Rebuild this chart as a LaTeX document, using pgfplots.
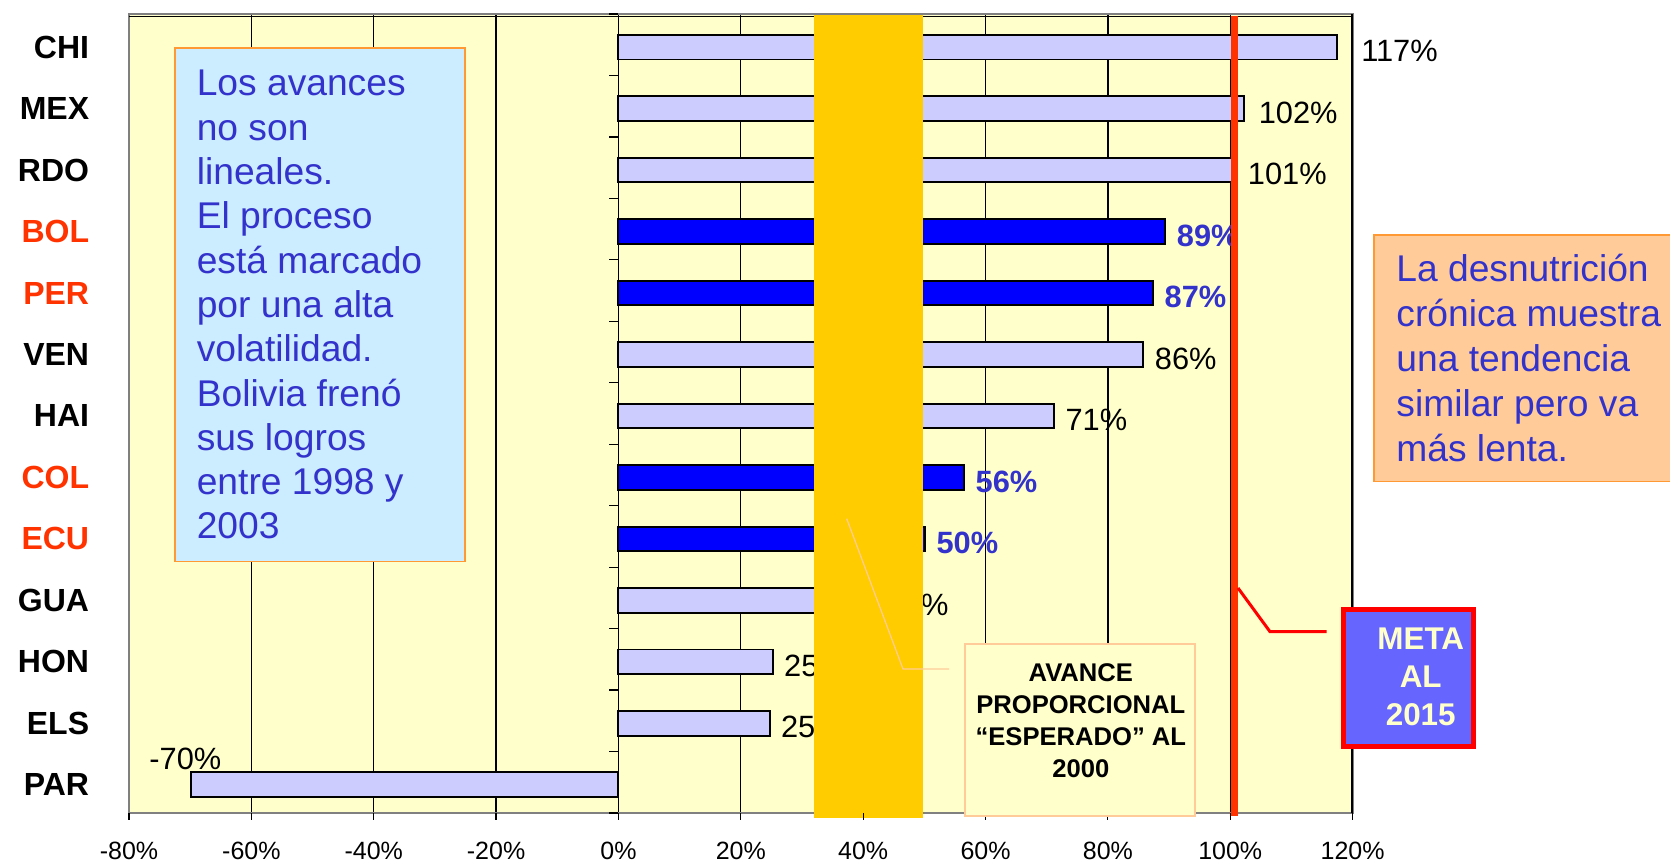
\documentclass[border=0pt]{standalone}
\usepackage{fontspec}
\setmainfont{Liberation Sans}
\usepackage{pgfplots}
\pgfplotsset{compat=1.18}
\definecolor{bgyellow}{HTML}{FFFFCC}
\definecolor{lightbar}{HTML}{CCCCFF}
\definecolor{darkbar}{HTML}{0000FF}
\definecolor{band}{HTML}{FFCC00}
\definecolor{metaline}{HTML}{FF3300}
\definecolor{catred}{HTML}{FF3300}
\definecolor{lblblue}{HTML}{3333CC}
\definecolor{boxblue}{HTML}{CCECFF}
\definecolor{boxorange}{HTML}{FF9933}
\definecolor{boxpeach}{HTML}{FFCC99}
\definecolor{metafill}{HTML}{6666FF}
\definecolor{metared}{HTML}{FF0000}
\begin{document}
\begin{tikzpicture}
\path[use as bounding box] (0,0) rectangle (835pt,431.5pt);
\begin{axis}[
  at={(64.5pt,424.5pt)}, anchor=north west,
  scale only axis, width=611.8pt, height=399.5pt,
  xmin=-80, xmax=120, ymin=-0.54, ymax=12.46, y dir=reverse,
  axis background/.style={fill=bgyellow},
  axis line style={draw=gray, line width=0.9pt},
  xtick={-80,-60,...,120},
  xticklabels={-80\%,-60\%,-40\%,-20\%,0\%,20\%,40\%,60\%,80\%,100\%,120\%},
  xticklabel style={font=\fontsize{12.5}{12.5}\selectfont, anchor=base, yshift=-23.25pt, inner sep=0pt},
  ytick={0,...,12},
  yticklabels={CHI,MEX,RDO,\textcolor{catred}{BOL},\textcolor{catred}{PER},VEN,HAI,\textcolor{catred}{COL},\textcolor{catred}{ECU},GUA,HON,ELS,PAR},
  yticklabel style={font=\bfseries\fontsize{16}{16}\selectfont, anchor=east, inner sep=0pt, xshift=-19.75pt},
  major tick length=0pt,
  xmajorgrids, grid style={black, line width=0.65pt},
  xbar, bar width=12.3pt, bar shift=0pt,
  clip=false,
  point meta=explicit symbolic,
  nodes near coords,
]
\addplot[xbar, bar shift=0pt, fill=lightbar, draw=black, line width=0.95pt,
  every node near coord/.append style={anchor=west, inner sep=0pt, xshift=5.3pt, yshift=-2pt, font=\fontsize{15.4}{15.4}\selectfont, text=black}]
  coordinates {
 (117.4,0) [\hspace{6.5pt}117\%]
 (102.3,1) [\hspace{1.5pt}102\%]
 (101,2) [101\%]
 (85.8,5) [86\%]
 (71.2,6) [71\%]
 (42,9) [42\%]
 (25.2,10) [25\%]
 (24.7,11) [25\%]
};
\addplot[xbar, bar shift=0pt, fill=lightbar, draw=black, line width=0.95pt,
  every node near coord/.append style={anchor=base, inner sep=0pt, xshift=-3pt, yshift=7.4pt, font=\fontsize{15.4}{15.4}\selectfont, text=black}]
  coordinates {(-69.8,12) [-70\%]};
\addplot[xbar, bar shift=0pt, fill=darkbar, draw=black, line width=0.95pt,
  every node near coord/.append style={anchor=west, inner sep=0pt, xshift=5.3pt, yshift=-2pt, font=\bfseries\fontsize{15.4}{15.4}\selectfont, text=lblblue}]
  coordinates {
 (89.4,3) [89\%]
 (87.4,4) [87\%]
 (56.5,7) [56\%]
 (50.1,8) [50\%]
};
\draw[black, line width=0.9pt] (rel axis cs:0,0.997) -- (rel axis cs:1,0.997);
\draw[black, line width=0.7pt] (rel axis cs:0.9995,0) -- (rel axis cs:0.9995,1);
\end{axis}
\begin{scope}[x=0.5pt, y=-0.5pt, shift={(0pt,431.5pt)}]
 % expected-progress band and 2015 goal line (drawn over bars and labels)
 \fill[band] (813.8,15) rectangle (923.3,818);
 \draw[metaline, line width=3.7pt] (1234.5,16) -- (1234.5,815.7);
 \foreach \k in {0,...,13} \draw[black, line width=0.6pt] (618,{14+61.46*\k}) -- ++(-9,0);
 \foreach \k in {0,...,10} \draw[black, line width=0.6pt] ({129+122.36*\k},813) -- ++(0,7);
 % left box
 \draw[boxorange, line width=0.8pt, fill=boxblue] (175,48) rectangle (465,561.5);
 \foreach \t [count=\i from 0] in {Los avances,no son,lineales.,El proceso,está marcado,por una alta,volatilidad.,Bolivia frenó,sus logros,entre 1998 y,2003}
   \node[anchor=base west, inner sep=0pt, text=lblblue, font=\fontsize{18.6}{18.6}\selectfont] at (196.4,{96+44.3*\i}) {\t};
 % right box
 \draw[boxorange, line width=0.8pt, fill=boxpeach] (1374,235) rectangle (1690,481.7);
 \foreach \t [count=\i from 0] in {La desnutrición,crónica muestra,una tendencia,similar pero va,más lenta.}
   \node[anchor=base west, inner sep=0pt, text=lblblue, font=\fontsize{18.6}{18.6}\selectfont] at (1396,{281.7+45*\i}) {\t};
 % avance box
 \draw[boxpeach, line width=0.6pt] (949,669) -- (903,669) -- (846.7,518.7);
 \draw[boxpeach, line width=0.8pt, fill=bgyellow] (965,644) rectangle (1195,815.7);
 \foreach \t [count=\i from 0] in {AVANCE,PROPORCIONAL,“ESPERADO” AL,2000}
   \node[anchor=base, inner sep=0pt, text=black, font=\bfseries\fontsize{12.8}{12.8}\selectfont] at (1080.8,{681.7+32*\i}) {\t};
 % meta box
 \draw[metared, line width=1.5pt] (1326.5,631.7) -- (1270,631.7) -- (1238,588);
 \draw[metared, line width=2.5pt, fill=metafill] (1343.8,609.2) rectangle (1473.5,746.8);
 \foreach \t [count=\i from 0] in {META,AL,2015}
   \node[anchor=base, inner sep=0pt, text=bgyellow, font=\bfseries\fontsize{15.7}{15.7}\selectfont] at (1420.7,{649.7+38*\i}) {\t};
\end{scope}
\end{tikzpicture}
\end{document}
